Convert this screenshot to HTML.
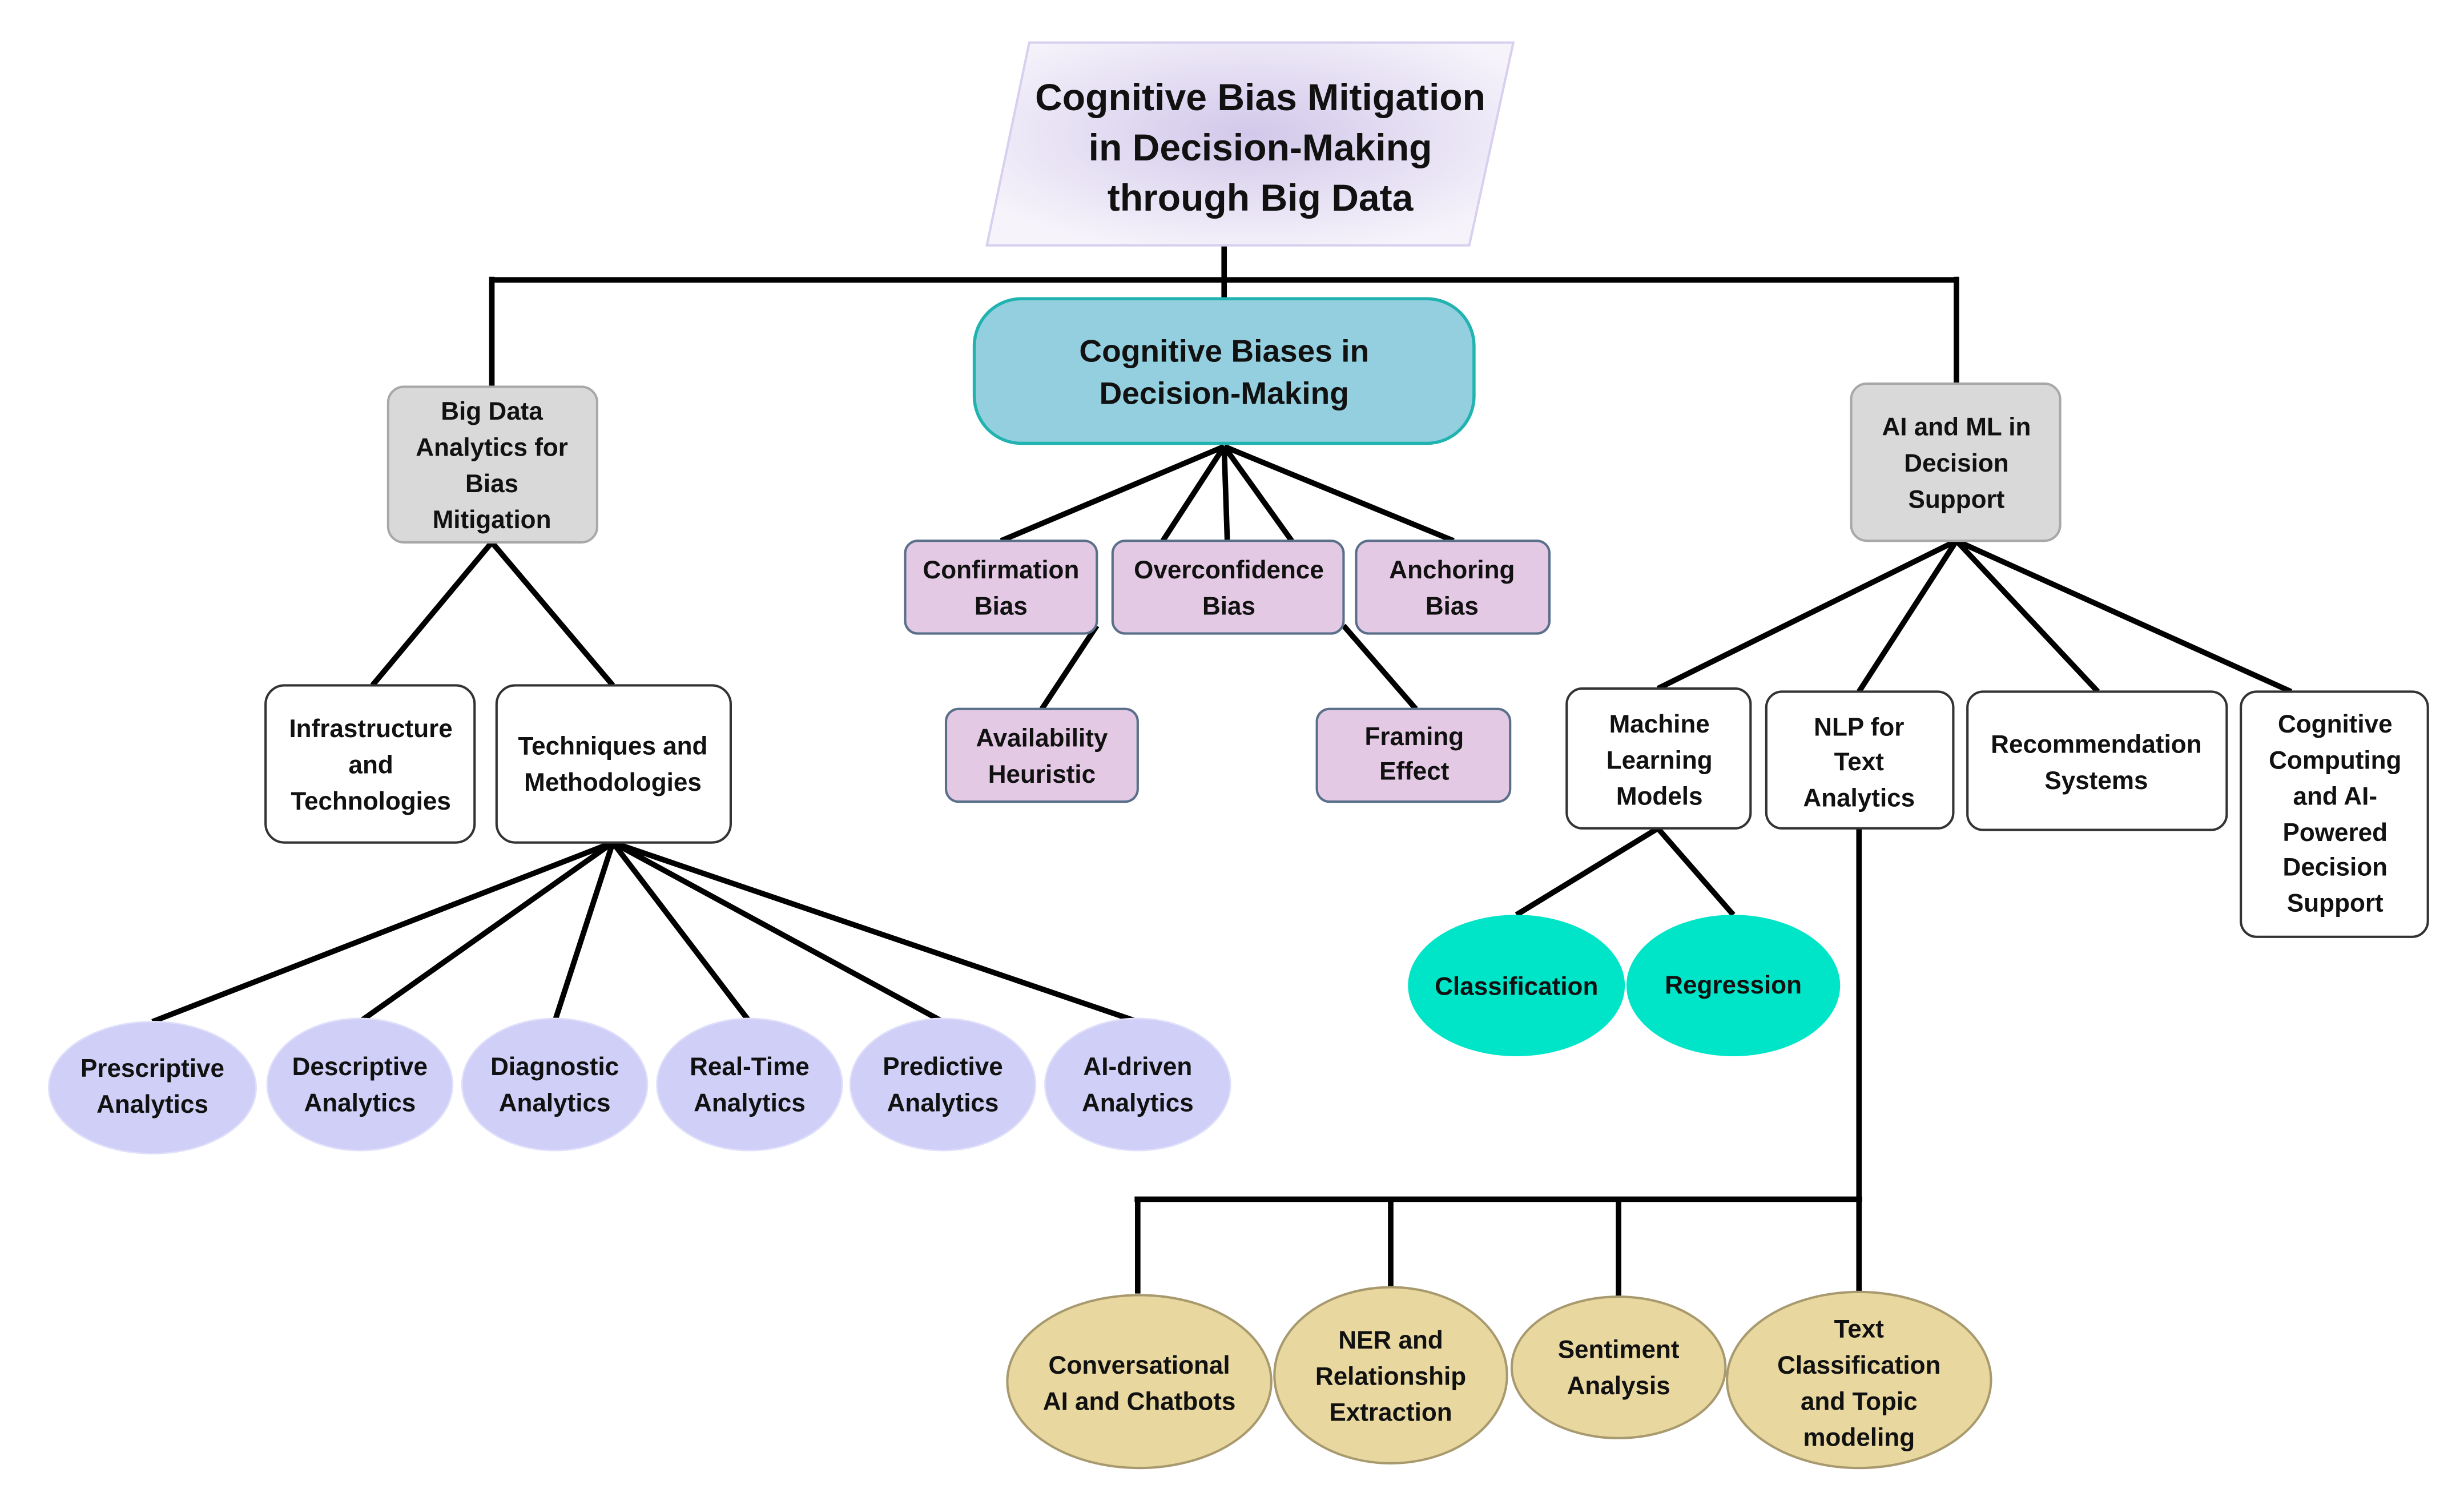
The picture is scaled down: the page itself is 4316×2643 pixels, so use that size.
<!DOCTYPE html>
<html><head><meta charset="utf-8"><style>
html,body{margin:0;padding:0;background:#fff}
svg{display:block}
text{font-family:"Liberation Sans",sans-serif;font-weight:bold;fill:#111;text-anchor:middle}
</style></head><body>
<svg width="4316" height="2643" viewBox="0 0 1568 960" xmlns="http://www.w3.org/2000/svg">
<defs>
<radialGradient id="tg" cx="0.5" cy="0.45" r="0.6">
<stop offset="0" stop-color="#d2c8ea"/><stop offset="1" stop-color="#f6f3fb"/>
</radialGradient>
</defs>
<g stroke="#000" stroke-width="3.5" fill="none">
<path d="M779 156V190M313 178H1245M313 176V246M1245 176V244"/>
<path d="M313 345L237 436M313 345L390 436"/>
<path d="M390 536L97 650M390 536L229 650M390 536L353 650M390 536L477 650M390 536L600 650M390 536L724 650"/>
<path d="M779 284L637 344M779 284L740 344M779 284L781 344M779 284L822 344M779 284L925 344"/>
<path d="M698 398L663 451M855 398L901 451"/>
<path d="M1245 344L1055 438M1245 344L1183 440M1245 344L1335 440M1245 344L1458 440"/>
<path d="M1055 527L965 582M1055 527L1103 582"/>
<path d="M1183 527V823M722 763H1185M724 763V823M885 763V820M1030 763V825"/>
</g>
<polygon points="655,27 963,27 935,156 628,156" fill="url(#tg)" stroke="#d8d0ee" stroke-width="1.5"/>
<g font-size="24"><text x="802" y="70">Cognitive Bias Mitigation</text><text x="802" y="102">in Decision-Making</text><text x="802" y="134">through Big Data</text></g>
<rect x="620" y="190" width="318" height="92" rx="30" fill="#93cfdf" stroke="#20b3b0" stroke-width="2"/>
<g font-size="20"><text x="779" y="230">Cognitive Biases in</text><text x="779" y="257">Decision-Making</text></g>
<g stroke="#a8a8a8" stroke-width="1.5" fill="#d9d9d9">
<rect x="247" y="246" width="133" height="99" rx="10"/>
<rect x="1178" y="244" width="133" height="100" rx="10"/>
</g>
<g stroke="#333" stroke-width="1.5" fill="#fff">
<rect x="169" y="436" width="133" height="100" rx="12"/>
<rect x="316" y="436" width="149" height="100" rx="12"/>
<rect x="997" y="438" width="117" height="89" rx="10"/>
<rect x="1124" y="440" width="119" height="87" rx="10"/>
<rect x="1252" y="440" width="165" height="88" rx="10"/>
<rect x="1426" y="440" width="119" height="156" rx="10"/>
</g>
<g stroke="#5a6f8a" stroke-width="1.5" fill="#e3c9e3">
<rect x="576" y="344" width="122" height="59" rx="8"/>
<rect x="708" y="344" width="147" height="59" rx="8"/>
<rect x="863" y="344" width="123" height="59" rx="8"/>
<rect x="602" y="451" width="122" height="59" rx="8"/>
<rect x="838" y="451" width="123" height="59" rx="8"/>
</g>
<g fill="#cfcff7" stroke="#e0e0fb" stroke-width="1">
<ellipse cx="97" cy="692" rx="66" ry="42"/>
<ellipse cx="229" cy="690" rx="59" ry="42"/>
<ellipse cx="353" cy="690" rx="59" ry="42"/>
<ellipse cx="477" cy="690" rx="59" ry="42"/>
<ellipse cx="600" cy="690" rx="59" ry="42"/>
<ellipse cx="724" cy="690" rx="59" ry="42"/>
</g>
<g fill="#00e5c8"><ellipse cx="965" cy="627" rx="69" ry="45"/><ellipse cx="1103" cy="627" rx="68" ry="45"/></g>
<g fill="#e8d8a0" stroke="#a89a6e" stroke-width="1.5">
<ellipse cx="725" cy="879" rx="84" ry="55"/>
<ellipse cx="885" cy="875" rx="74" ry="56"/>
<ellipse cx="1030" cy="870" rx="68" ry="45"/>
<ellipse cx="1183" cy="878" rx="84" ry="56"/>
</g>
<g font-size="16">
<text x="313" y="267">Big Data</text><text x="313" y="290">Analytics for</text><text x="313" y="313">Bias</text><text x="313" y="336">Mitigation</text>
<text x="1245" y="277">AI and ML in</text><text x="1245" y="300">Decision</text><text x="1245" y="323">Support</text>
<text x="236" y="469">Infrastructure</text><text x="236" y="492">and</text><text x="236" y="515">Technologies</text>
<text x="390" y="480">Techniques and</text><text x="390" y="503">Methodologies</text>
<text x="97" y="685">Prescriptive</text><text x="97" y="708">Analytics</text>
<text x="229" y="684">Descriptive</text><text x="229" y="707">Analytics</text>
<text x="353" y="684">Diagnostic</text><text x="353" y="707">Analytics</text>
<text x="477" y="684">Real-Time</text><text x="477" y="707">Analytics</text>
<text x="600" y="684">Predictive</text><text x="600" y="707">Analytics</text>
<text x="724" y="684">AI-driven</text><text x="724" y="707">Analytics</text>
<text x="637" y="368">Confirmation</text><text x="637" y="391">Bias</text>
<text x="782" y="368">Overconfidence</text><text x="782" y="391">Bias</text>
<text x="924" y="368">Anchoring</text><text x="924" y="391">Bias</text>
<text x="663" y="475">Availability</text><text x="663" y="498">Heuristic</text>
<text x="900" y="474">Framing</text><text x="900" y="496">Effect</text>
<text x="1056" y="466">Machine</text><text x="1056" y="489">Learning</text><text x="1056" y="512">Models</text>
<text x="1183" y="468">NLP for</text><text x="1183" y="490">Text</text><text x="1183" y="513">Analytics</text>
<text x="1334" y="479">Recommendation</text><text x="1334" y="502">Systems</text>
<text x="1486" y="466">Cognitive</text><text x="1486" y="489">Computing</text><text x="1486" y="512">and AI-</text><text x="1486" y="535">Powered</text><text x="1486" y="557">Decision</text><text x="1486" y="580">Support</text>
<text x="965" y="633">Classification</text><text x="1103" y="632">Regression</text>
<text x="725" y="874">Conversational</text><text x="725" y="897">AI and Chatbots</text>
<text x="885" y="858">NER and</text><text x="885" y="881">Relationship</text><text x="885" y="904">Extraction</text>
<text x="1030" y="864">Sentiment</text><text x="1030" y="887">Analysis</text>
<text x="1183" y="851">Text</text><text x="1183" y="874">Classification</text><text x="1183" y="897">and Topic</text><text x="1183" y="920">modeling</text>
</g>
</svg>
</body></html>
